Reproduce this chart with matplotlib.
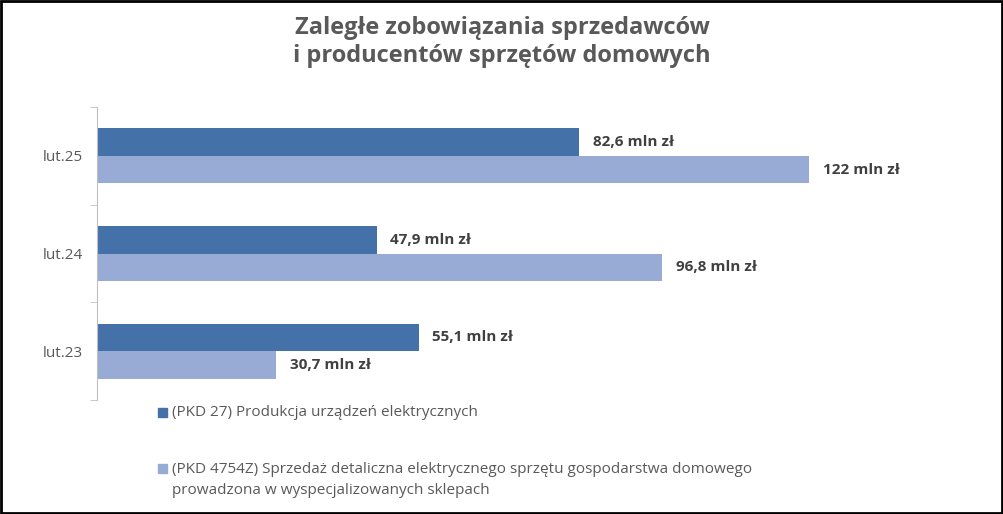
import matplotlib.pyplot as plt
from matplotlib.patches import Rectangle
import numpy as np

categories = ["lut.23", "lut.24", "lut.25"]
pkd27 = [55.1, 47.9, 82.6]
pkd4754 = [30.7, 96.8, 122]
labels27 = ["55,1 mln zł", "47,9 mln zł", "82,6 mln zł"]
labels4754 = ["30,7 mln zł", "96,8 mln zł", "122 mln zł"]
legend_names = [
    "(PKD 27) Produkcja urządzeń elektrycznych",
    "(PKD 4754Z) Sprzedaż detaliczna elektrycznego sprzętu gospodarstwa domowego\nprowadzona w wyspecjalizowanych sklepach",
]

dark = "#4472a8"
light = "#97abd4"
font = "Open Sans"

fig = plt.figure(figsize=(10.04, 5.14), dpi=100)
W, H = 1004, 514
ax = fig.add_axes([97 / W, 1 - 400 / H, (950 - 97) / W, (400 - 107) / H])

y = np.arange(len(categories))
h = 0.28
ax.barh(y + h / 2, pkd27, height=h, color=dark)
ax.barh(y - h / 2, pkd4754, height=h, color=light)
for yi, v, t in zip(y, pkd27, labels27):
    ax.text(v + 2.3, yi + h / 2, t, va="center", ha="left", fontsize=11,
            fontweight="bold", color="#404040", family=font)
for yi, v, t in zip(y, pkd4754, labels4754):
    ax.text(v + 2.3, yi - h / 2, t, va="center", ha="left", fontsize=11,
            fontweight="bold", color="#404040", family=font)

ax.set_xlim(0, (950 - 97) / 5.84)
ax.set_ylim(-0.5, 2.5)
ax.set_yticks(y)
ax.set_yticklabels(categories, fontsize=11, color="#595959", family=font)
ax.set_yticks([-0.5, 0.5, 1.5, 2.5], minor=True)
ax.tick_params(axis="y", which="major", length=0, pad=10)
ax.tick_params(axis="y", which="minor", length=5, color="#bfbfbf")
ax.set_xticks([])
for s in ["top", "right", "bottom"]:
    ax.spines[s].set_visible(False)
ax.spines["left"].set_color("#bfbfbf")

fig.text(0.5, 1 - 42 / H, "Zaległe zobowiązania sprzedawców\ni producentów sprzętów domowych",
         ha="center", va="center", fontsize=17, fontweight="bold",
         color="#595959", family=font, linespacing=1.25)

# legend
fig.patches.append(Rectangle((158 / W, 1 - 417 / H), 9 / W, 9 / H,
                             transform=fig.transFigure, color=dark))
fig.text(172 / W, 1 - 412 / H, legend_names[0], va="center", fontsize=11,
         color="#595959", family=font)
fig.patches.append(Rectangle((158 / W, 1 - 473 / H), 9 / W, 9 / H,
                             transform=fig.transFigure, color=light))
fig.text(172 / W, 1 - 480 / H, legend_names[1], va="center", fontsize=11,
         color="#595959", family=font, linespacing=1.5)

fig.patches.append(Rectangle((0.001, 0.002), 0.997, 0.996, transform=fig.transFigure,
                             fill=False, edgecolor="black", linewidth=2))
fig.savefig("out.png", dpi=100)
